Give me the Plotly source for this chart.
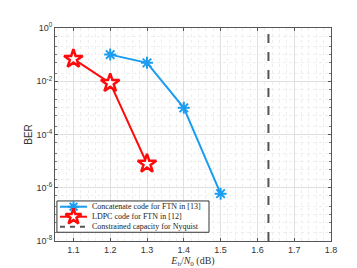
import plotly.graph_objects as go

# Data
ebn0_concat = [1.2, 1.3, 1.4, 1.5]
ber_concat = [0.10, 0.049, 1.0e-3, 6.0e-7]
ebn0_ldpc = [1.1, 1.2, 1.3]
ber_ldpc = [0.069, 0.0085, 8.0e-6]
capacity_x = 1.63
y_limits = [1e-8, 1.0]
x_ticks = [1.1, 1.2, 1.3, 1.4, 1.5, 1.6, 1.7, 1.8]
y_ticks = [1e0, 1e-2, 1e-4, 1e-6, 1e-8]
y_ticktext = ["10<sup>0</sup>", "10<sup>-2</sup>", "10<sup>-4</sup>", "10<sup>-6</sup>", "10<sup>-8</sup>"]
legend_names = ["Concatenate code for FTN in [13]", "LDPC code for FTN in [12]",
                "Constrained capacity for Nyquist"]

blue = "#1A9CF0"
red = "#FF0A0A"
gray = "#555555"

fig = go.Figure()
fig.add_trace(go.Scatter(
    x=ebn0_concat, y=ber_concat, mode="lines+markers", name=legend_names[0],
    line=dict(color=blue, width=2),
    marker=dict(symbol="asterisk-open", size=10, color=blue, line=dict(color=blue, width=2)),
))
fig.add_trace(go.Scatter(
    x=ebn0_ldpc, y=ber_ldpc, mode="lines+markers", name=legend_names[1],
    line=dict(color=red, width=2),
    marker=dict(symbol="star", size=14, color="white", line=dict(color=red, width=2.5)),
))
fig.add_trace(go.Scatter(
    x=[capacity_x, capacity_x], y=y_limits, mode="lines", name=legend_names[2],
    line=dict(color=gray, width=2, dash="dash"),
))

# ---- compact legend drawn on a hidden overlay axis (0..1 of the plot area)
box = dict(x0=0.007, x1=0.558, y0=0.041, y1=0.188)
rows = [0.161, 0.114, 0.067]
sample_x = [0.018, 0.116]
mark_x = 0.067
text_x = 0.125
# white box (as a filled trace so it sits under the legend samples)
fig.add_trace(go.Scatter(
    x=[box["x0"], box["x1"], box["x1"], box["x0"], box["x0"]],
    y=[box["y0"], box["y0"], box["y1"], box["y1"], box["y0"]],
    xaxis="x2", yaxis="y2", mode="lines", fill="toself", fillcolor="white",
    line=dict(color="#333333", width=1), hoverinfo="skip"))
fig.add_trace(go.Scatter(x=sample_x, y=[rows[0]] * 2, xaxis="x2", yaxis="y2", mode="lines",
                         line=dict(color=blue, width=2), hoverinfo="skip"))
fig.add_trace(go.Scatter(x=[mark_x], y=[rows[0]], xaxis="x2", yaxis="y2", mode="markers",
                         marker=dict(symbol="asterisk-open", size=9, color=blue,
                                     line=dict(color=blue, width=2)), hoverinfo="skip"))
fig.add_trace(go.Scatter(x=sample_x, y=[rows[1]] * 2, xaxis="x2", yaxis="y2", mode="lines",
                         line=dict(color=red, width=2), hoverinfo="skip"))
fig.add_trace(go.Scatter(x=[mark_x], y=[rows[1]], xaxis="x2", yaxis="y2", mode="markers",
                         marker=dict(symbol="star", size=12, color="white",
                                     line=dict(color=red, width=2.5)), hoverinfo="skip"))
fig.add_trace(go.Scatter(x=sample_x, y=[rows[2]] * 2, xaxis="x2", yaxis="y2", mode="lines",
                         line=dict(color=gray, width=2, dash="5px,5px"), hoverinfo="skip"))
for name, ry in zip(legend_names, rows):
    fig.add_annotation(x=text_x, y=ry, xref="x2", yref="y2", text=name, showarrow=False,
                       xanchor="left", yanchor="middle",
                       font=dict(family="Liberation Serif, Times New Roman", size=8, color="#222222"))

axis_common = dict(
    showline=True, linecolor=gray, linewidth=1, mirror="ticks",
    ticks="inside", ticklen=3, tickcolor=gray,
    tickfont=dict(family="Liberation Sans, Arial", size=9, color="#333333"),
    showgrid=True, gridcolor="#E0E0E0", gridwidth=1, zeroline=False,
)

fig.update_xaxes(
    range=[1.05, 1.8], tickvals=x_ticks,
    ticktext=[f"{v:.1f}" for v in x_ticks],
    minor=dict(showgrid=True, gridcolor="#EEEEEE", griddash="dot", dtick=0.02, ticks=""),
    title=dict(text="<i>E</i><sub>b</sub>/<i>N</i><sub>0</sub> (dB)",
               font=dict(family="Liberation Serif, Times New Roman", size=10, color="#333333"),
               standoff=2),
    **axis_common,
)
fig.update_yaxes(
    type="log", range=[-8, 0], tickvals=y_ticks, ticktext=y_ticktext,
    minor=dict(showgrid=True, gridcolor="#EEEEEE", griddash="dot", ticks="inside", ticklen=2, tickcolor="#777777"),
    title=dict(text="BER", font=dict(family="Liberation Sans, Arial", size=10, color="#333333"), standoff=2),
    **axis_common,
)

fig.update_layout(
    width=357, height=268,
    margin=dict(l=47, r=34, t=20, b=30),
    plot_bgcolor="white", paper_bgcolor="white",
    showlegend=False,
    xaxis2=dict(overlaying="x", range=[0, 1], visible=False, fixedrange=True),
    yaxis2=dict(overlaying="y", range=[0, 1], visible=False, fixedrange=True),
)

fig.write_html("out.html")
